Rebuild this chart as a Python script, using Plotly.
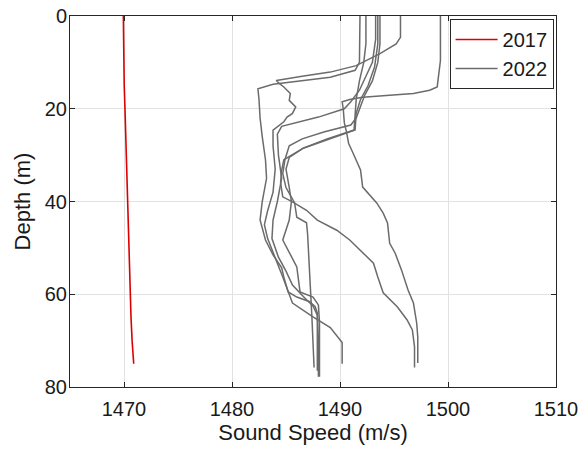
import plotly.graph_objects as go

# 2017 profile
d2017 = [0, 5, 10, 15, 20, 25, 30, 35, 40, 45, 50, 55, 60, 65, 70, 75]
s2017 = [1469.94, 1469.95, 1469.98, 1470.02, 1470.09, 1470.15, 1470.2, 1470.26, 1470.31, 1470.37, 1470.44, 1470.5, 1470.56, 1470.65, 1470.75, 1470.9]

# 2022 profiles
p1_depth = [0, 9.6, 15.3, 16.0, 16.7, 17.5, 18.0, 18.5, 20, 23, 25.0, 27.5, 29, 31.5, 33.2, 36.9, 38.5, 40.3, 42.5, 44.6, 49, 51.1, 54.8, 59.1, 61.9, 66.2, 69.2, 74.8]
p1_speed = [1499.3, 1499.3, 1499.0, 1498.3, 1496.8, 1492.1, 1490.9, 1490.2, 1490.3, 1490.4, 1490.6, 1490.8, 1491.1, 1491.6, 1491.9, 1492.1, 1492.7, 1493.4, 1494.0, 1494.4, 1494.6, 1495.1, 1495.7, 1496.3, 1496.8, 1497.1, 1497.2, 1497.2]

p2_depth = [0, 4.6, 6.0, 8.1, 10.7, 12.1, 13.0, 13.9, 14.6, 15.3, 16.7, 18.2, 19.6, 21.0, 21.8, 22.8, 24.6, 28, 33, 38, 42, 45, 48, 52, 56.3, 61.9, 64.9, 67.2, 70.4, 75.0]
p2_speed = [1495.6, 1495.6, 1495.2, 1493.7, 1491.5, 1489.1, 1486.5, 1484.1, 1484.4, 1484.8, 1485.4, 1485.3, 1485.9, 1485.6, 1485.1, 1484.8, 1483.8, 1483.8, 1484.0, 1483.8, 1483.3, 1483.0, 1483.3, 1484.0, 1484.7, 1485.6, 1487.5, 1489.1, 1490.2, 1490.2]

p3_depth = [0, 8, 10, 11.7, 13.2, 14.7, 15.7, 18, 22, 26, 31, 35, 40, 44, 46.8, 48.3, 51.5, 54.3, 56.3, 59.5, 60.6, 61.6, 62.7, 64, 70, 77.8]
p3_speed = [1491.85, 1491.85, 1491.8, 1491.4, 1489.1, 1483.8, 1482.4, 1482.5, 1482.6, 1482.8, 1483.1, 1483.2, 1482.8, 1482.6, 1482.9, 1483.1, 1483.8, 1484.6, 1484.8, 1485.2, 1486.0, 1487.2, 1487.7, 1487.9, 1488.0, 1488.0]

p4_depth = [0, 6, 10, 14, 18, 22, 24.6, 26.5, 28.5, 31, 33.3, 36, 39, 40.1, 41.9, 44, 46.2, 48.3, 50.5, 53.3, 56.3, 59.7, 62.7, 65.5, 67.7, 71.3, 75.8]
p4_speed = [1492.4, 1492.4, 1492.2, 1491.8, 1491.5, 1491.4, 1491.3, 1488.8, 1486.6, 1484.8, 1484.6, 1484.5, 1484.7, 1485.6, 1486.9, 1487.9, 1489.7, 1490.9, 1491.9, 1493.1, 1493.5, 1494.0, 1495.3, 1496.2, 1496.7, 1496.9, 1496.9]

p5_depth = [0, 5, 10, 13, 16, 18.5, 20, 21.8, 23.1, 23.8, 25.5, 30, 35, 40, 44, 48, 52, 55, 58, 60.5, 62.5, 64.5, 70, 76.5]
p5_speed = [1493.3, 1493.3, 1493.0, 1492.4, 1491.8, 1491.0, 1490.4, 1488.0, 1485.6, 1484.6, 1484.2, 1484.3, 1484.6, 1484.2, 1483.8, 1483.7, 1484.3, 1485.0, 1485.6, 1486.6, 1487.5, 1487.9, 1487.9, 1487.9]

p6_depth = [0, 6, 10, 14, 17, 20, 22, 23.5, 25, 26.5, 28, 31, 34, 37, 40.3, 43.4, 44.6, 47, 55, 65, 75.8]
p6_speed = [1493.7, 1493.7, 1493.5, 1493.0, 1492.3, 1491.8, 1491.5, 1491.0, 1488.5, 1486.5, 1485.3, 1484.9, 1484.7, 1485.0, 1485.8, 1486.0, 1486.9, 1487.0, 1487.2, 1487.4, 1487.6]

p7_depth = [0, 6, 11, 15, 18, 21, 24.6, 26.5, 28.5, 30.5, 33, 37, 40, 44, 48.3, 54.1, 59.5, 60.6, 62.3, 66, 77.8]
p7_speed = [1493.5, 1493.5, 1493.2, 1492.6, 1491.9, 1491.5, 1491.4, 1489.0, 1486.6, 1485.3, 1485.0, 1485.3, 1485.5, 1485.3, 1484.7, 1486.0, 1486.3, 1487.5, 1488.0, 1488.1, 1488.1]

profiles_2022 = [
    (p1_speed, p1_depth), (p2_speed, p2_depth), (p3_speed, p3_depth),
    (p4_speed, p4_depth), (p5_speed, p5_depth), (p6_speed, p6_depth),
    (p7_speed, p7_depth),
]

x_ticks = [1470, 1480, 1490, 1500, 1510]
y_ticks = [0, 20, 40, 60, 80]

FONT = "Liberation Sans, Arial, sans-serif"
AX = "#262626"
GRAY = "#6b6b6b"
TXT = "#1a1a1a"

fig = go.Figure()
fig.add_trace(go.Scatter(x=s2017, y=d2017, mode="lines", name="2017",
                         line=dict(color="#dd0000", width=1.6)))
for i, (s, d) in enumerate(profiles_2022):
    fig.add_trace(go.Scatter(x=s, y=d, mode="lines", name="2022",
                             legendgroup="2022", showlegend=(i == 0),
                             line=dict(color=GRAY, width=1.5)))

axis_common = dict(showgrid=True, gridcolor="#e2e2e2", gridwidth=1,
                   showline=True, linecolor=AX, linewidth=1, mirror="ticks",
                   ticks="inside", ticklen=5, tickcolor=AX, zeroline=False,
                   automargin=False,
                   tickfont=dict(family=FONT, size=20, color=TXT))

fig.update_layout(
    width=580, height=450,
    margin=dict(l=70, r=24, t=16, b=63),
    paper_bgcolor="white", plot_bgcolor="white",
    font=dict(family=FONT, color=TXT),
    xaxis=dict(range=[1465, 1510], tickvals=x_ticks, ticklabelstandoff=4,
               title=dict(text="Sound Speed (m/s)", font=dict(family=FONT, size=22, color=TXT), standoff=4),
               **axis_common),
    yaxis=dict(range=[80, 0], tickvals=y_ticks, ticklabelstandoff=-2,
               title=dict(text="Depth (m)", font=dict(family=FONT, size=22, color=TXT), standoff=8),
               **axis_common),
    legend=dict(x=0.995, xanchor="right", y=0.992, yanchor="top",
                bgcolor="white", bordercolor=AX, borderwidth=1,
                font=dict(family=FONT, size=20, color=TXT),
                tracegroupgap=0, itemwidth=42),
    showlegend=True,
)

fig.write_html("out.html")
